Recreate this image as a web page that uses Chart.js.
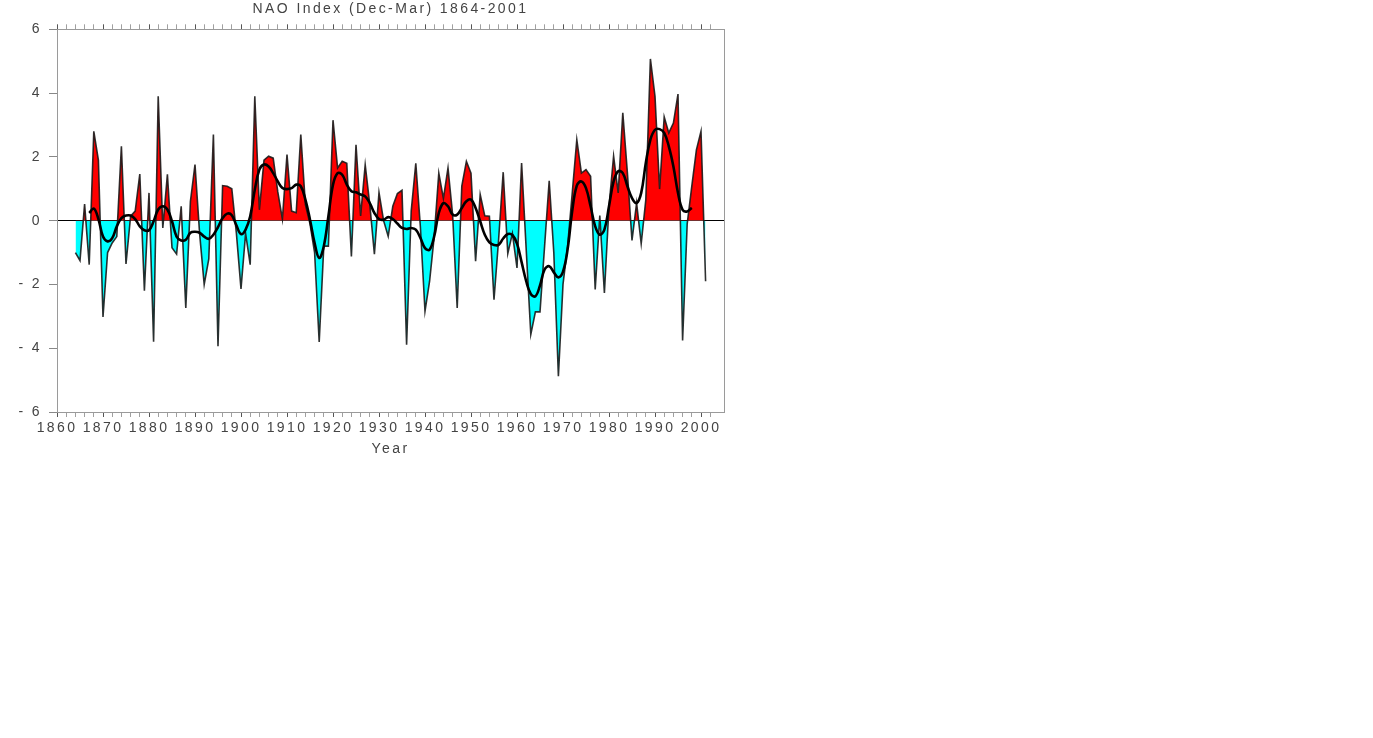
<!DOCTYPE html>
<html><head><meta charset="utf-8">
<script src="https://cdn.jsdelivr.net/npm/chart.js@4.4.1/dist/chart.umd.min.js"></script>
<style>html,body{margin:0;padding:0;background:#fff;overflow:hidden}
#wrap{position:absolute;left:0;top:0;width:1373px;height:738px}</style>
</head><body><div id="wrap"><canvas id="c"></canvas></div>
<script>
const years = [1864,1865,1866,1867,1868,1869,1870,1871,1872,1873,1874,1875,1876,1877,1878,1879,
1880,1881,1882,1883,1884,1885,1886,1887,1888,1889,1890,1891,1892,1893,1894,1895,1896,1897,1898,1899,
1900,1901,1902,1903,1904,1905,1906,1907,1908,1909,1910,1911,1912,1913,1914,1915,1916,1917,1918,1919,
1920,1921,1922,1923,1924,1925,1926,1927,1928,1929,1930,1931,1932,1933,1934,1935,1936,1937,1938,1939,
1940,1941,1942,1943,1944,1945,1946,1947,1948,1949,1950,1951,1952,1953,1954,1955,1956,1957,1958,1959,
1960,1961,1962,1963,1964,1965,1966,1967,1968,1969,1970,1971,1972,1973,1974,1975,1976,1977,1978,1979,
1980,1981,1982,1983,1984,1985,1986,1987,1988,1989,1990,1991,1992,1993,1994,1995,1996,1997,1998,1999,
2000,2001];
const naoIndex = [-1.0,-1.25,0.52,-1.38,2.8,1.9,-3.02,-1.0,-0.7,-0.5,2.33,-1.36,0.14,0.3,1.46,-2.2,
0.87,-3.8,3.9,-0.23,1.45,-0.85,-1.05,0.45,-2.74,0.6,1.76,-0.4,-2.0,-1.2,2.7,-3.94,1.1,1.08,1.0,-0.4,
-2.14,-0.4,-1.38,3.9,0.34,1.9,2.02,1.96,0.9,0.05,2.07,0.3,0.25,2.7,0.5,-0.1,-1.0,-3.8,-0.8,-0.8,
3.15,1.65,1.86,1.8,-1.12,2.38,0.15,1.75,0.5,-1.05,0.88,0.0,-0.49,0.45,0.85,0.95,-3.89,0.3,1.8,-0.2,
-2.84,-1.9,-0.5,1.49,0.7,1.65,0.2,-2.74,1.08,1.86,1.49,-1.27,0.82,0.15,0.14,-2.48,-0.6,1.52,-1.03,-0.4,
-1.48,1.81,-0.9,-3.57,-2.86,-2.86,-0.8,1.25,-1.0,-4.88,-2.0,-0.8,0.85,2.54,1.49,1.6,1.39,-2.16,0.16,-2.27,
0.45,2.02,0.87,3.38,1.5,-0.62,0.55,-0.72,0.65,5.07,3.9,0.99,3.25,2.75,3.06,3.97,-3.76,-0.1,1.08,2.22,
2.8,-1.9];
const smoothYears = [1867,1868,1869,1870,1871,1872,1873,1874,1875,1876,1877,1878,1879,
1880,1881,1882,1883,1884,1885,1886,1887,1888,1889,1890,1891,1892,1893,1894,1895,1896,1897,1898,1899,
1900,1901,1902,1903,1904,1905,1906,1907,1908,1909,1910,1911,1912,1913,1914,1915,1916,1917,1918,1919,
1920,1921,1922,1923,1924,1925,1926,1927,1928,1929,1930,1931,1932,1933,1934,1935,1936,1937,1938,1939,
1940,1941,1942,1943,1944,1945,1946,1947,1948,1949,1950,1951,1952,1953,1954,1955,1956,1957,1958,1959,
1960,1961,1962,1963,1964,1965,1966,1967,1968,1969,1970,1971,1972,1973,1974,1975,1976,1977,1978,1979,
1980,1981,1982,1983,1984,1985,1986,1987,1988,1989,1990,1991,1992,1993,1994,1995,1996,1997,1998];
const smoothIndex = [0.24,0.38,0.05,-0.5,-0.65,-0.55,-0.18,0.08,0.16,0.16,0.05,-0.18,-0.3,
-0.3,-0.02,0.35,0.45,0.35,-0.02,-0.5,-0.62,-0.6,-0.38,-0.35,-0.38,-0.5,-0.57,-0.44,-0.2,0.08,0.22,0.17,-0.15,
-0.42,-0.28,0.14,0.97,1.6,1.76,1.7,1.49,1.23,1.02,0.99,1.02,1.13,1.08,0.66,0.03,-0.7,-1.17,-0.8,0.14,
1.13,1.49,1.44,1.13,0.92,0.89,0.82,0.76,0.55,0.24,0.05,0.03,0.11,0.05,-0.09,-0.23,-0.26,-0.23,-0.28,-0.54,
-0.86,-0.91,-0.49,0.24,0.55,0.45,0.19,0.19,0.4,0.61,0.66,0.4,-0.02,-0.44,-0.68,-0.76,-0.76,-0.56,-0.42,-0.45,
-0.72,-1.3,-1.9,-2.3,-2.37,-2.03,-1.53,-1.43,-1.62,-1.78,-1.6,-0.9,0.3,1.1,1.23,1.02,0.45,-0.18,-0.44,-0.28,
0.45,1.23,1.55,1.49,1.08,0.71,0.55,0.87,1.81,2.54,2.85,2.87,2.75,2.33,1.7,0.87,0.34,0.29,0.4];
const xTickLabels = ['1860','1870','1880','1890','1900','1910','1920','1930','1940','1950','1960','1970','1980','1990','2000'];
const yTickLabels = ['- 6','- 4','- 2','0','2','4','6'];
const chartTitle = 'NAO Index (Dec-Mar) 1864-2001';
const xTitle = 'Year';

const TXT = '#444';
const AXC = '#9a9a9a';
const LS = '2.4px';
const spacing = {id:'spacing',
  beforeUpdate(c){c.ctx.letterSpacing=LS;},
  beforeLayout(c){c.ctx.letterSpacing=LS;},
  beforeDraw(c){c.ctx.letterSpacing=LS;}
};
const evenOnly = s => { s.ticks = s.ticks.filter(t => Math.abs(t.value % 2) < 1e-9); };
const tickCol = ctx => (ctx.tick && ctx.tick.value % 10 === 0) ? '#555' : '#a0a0a0';

Chart.defaults.font.family = "'Liberation Sans', Arial, sans-serif";
Chart.defaults.font.size = 14;

new Chart(document.getElementById('c'), {
  type: 'line',
  data: { datasets: [
    { label:'smooth', data: smoothYears.map((y,i)=>({x:y,y:smoothIndex[i]})),
      borderColor:'#000', borderWidth:2.6, pointRadius:0, fill:false, tension:0.4, order:0 },
    { label:'NAO', data: years.map((y,i)=>({x:y,y:naoIndex[i]})),
      borderColor:'rgba(25,25,25,0.9)', borderWidth:1.6, pointRadius:0, tension:0, order:1,
      fill:{target:{value:0}, above:'#ff0000', below:'#00ffff'} }
  ]},
  options: {
    responsive:true, maintainAspectRatio:false, animation:false, devicePixelRatio:1,
    layout:{padding:{left:0, top:0, right:649, bottom:278}},
    plugins:{
      legend:{display:false}, tooltip:{enabled:false},
      title:{display:true, text:chartTitle, color:TXT, fullSize:false,
        font:{size:14, weight:'normal'}, padding:{top:1, bottom:0}}
    },
    scales:{
      x:{type:'linear', position:'bottom', min:1860, max:2005,
        afterBuildTicks: evenOnly, afterFit: s => { s.height = 48; },
        ticks:{stepSize:2, autoSkip:false, maxRotation:0, minRotation:0, padding:3, color:TXT,
          callback: v => (v % 10 === 0) ? xTickLabels[(v-1860)/10] : ''},
        grid:{drawOnChartArea:false, tickLength:5, tickColor:tickCol},
        border:{color:AXC, width:1},
        title:{display:true, text:xTitle, color:TXT, font:{size:14}, padding:{top:0, bottom:2}}
      },
      x2:{type:'linear', position:'top', min:1860, max:2005,
        afterBuildTicks: evenOnly, afterFit: s => { s.height = 11.5; },
        ticks:{display:false, stepSize:2, autoSkip:false},
        grid:{drawOnChartArea:false, tickLength:5, tickColor:tickCol},
        border:{color:AXC, width:1}
      },
      y:{type:'linear', position:'left', min:-6, max:6, z:1,
        afterFit: s => { s.width = 57; },
        ticks:{stepSize:2, padding:7, color:TXT, callback: v => yTickLabels[(v+6)/2]},
        grid:{color: ctx => (ctx.tick && ctx.tick.value === 0) ? '#000' : 'rgba(0,0,0,0)',
          lineWidth:1, tickLength:8, tickColor:'#888'},
        border:{color:AXC, width:1}
      },
      y2:{type:'linear', position:'right', min:-6, max:6,
        afterFit: s => { s.width = 0; },
        ticks:{display:false}, grid:{drawOnChartArea:false, drawTicks:false},
        border:{color:AXC, width:1}
      }
    }
  },
  plugins:[spacing]
});
</script>
</body></html>
